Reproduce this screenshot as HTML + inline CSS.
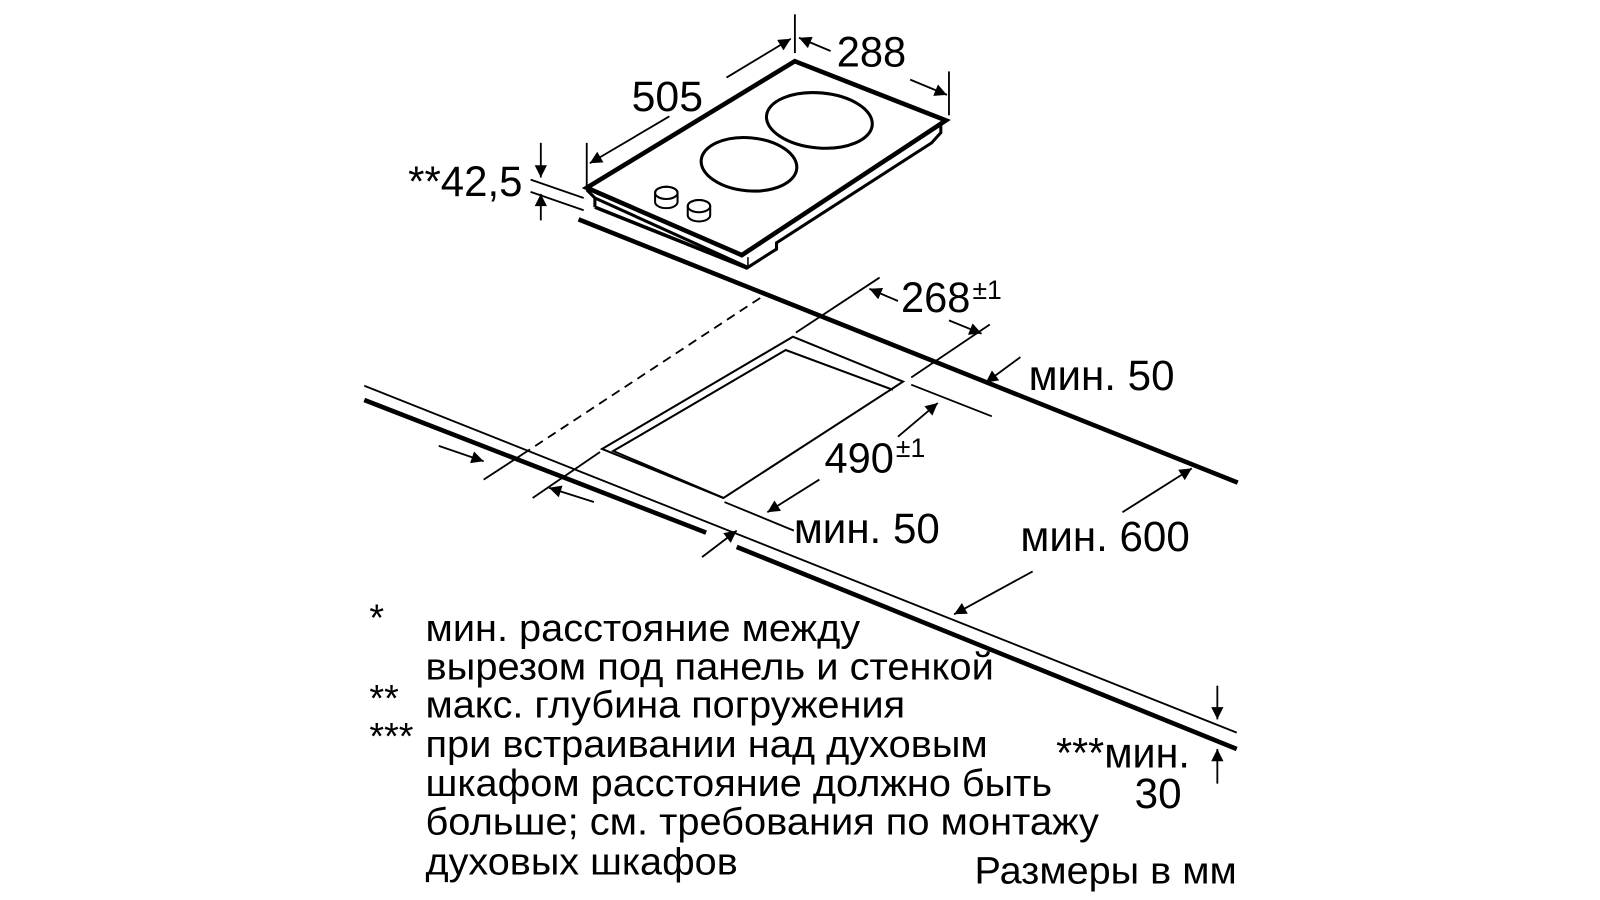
<!DOCTYPE html>
<html><head><meta charset="utf-8"><style>
html,body{margin:0;padding:0;background:#fff;}
svg{display:block;}
text{font-family:"Liberation Sans",Arial,sans-serif;fill:#000;}
</style></head><body>
<svg width="1600" height="900" viewBox="0 0 1600 900" xmlns="http://www.w3.org/2000/svg">
<defs>
<marker id="a" viewBox="0 0 10 10" refX="10" refY="5" markerWidth="17" markerHeight="12" markerUnits="userSpaceOnUse" orient="auto">
<path d="M0,0 L10,5 L0,10 z" fill="#000"/></marker>
</defs>
<g transform="scale(1.0204)">
<g stroke="#000" fill="none" stroke-linecap="butt">
<polygon points="779,60 927,118 727,250 575,184" stroke-width="4.5" fill="#fff"/>
<polyline points="575,186 583,194 733,262 761,244 761,238 913,140 922,130 922,122" stroke-width="3"/>
<line x1="583" y1="194" x2="583" y2="203" stroke-width="3"/>
<line x1="583" y1="203" x2="733" y2="263" stroke-width="3.5"/>
<line x1="733" y1="263" x2="733" y2="252" stroke-width="1.5"/>
<line x1="761" y1="246" x2="761" y2="238" stroke-width="1.5"/>
<ellipse cx="803" cy="118" rx="52" ry="27" stroke-width="3" transform="rotate(5 803 118)"/>
<ellipse cx="734" cy="161" rx="47" ry="26" stroke-width="3" transform="rotate(5 734 161)"/>
<path d="M642,189 a11,6 0 0 1 22,0 v9 a11,6 0 0 1 -22,0 z" stroke-width="2" fill="#fff"/>
<ellipse cx="653" cy="189" rx="11" ry="6" stroke-width="2"/>
<path d="M674,202 a11,6 0 0 1 22,0 v9 a11,6 0 0 1 -22,0 z" stroke-width="2" fill="#fff"/>
<ellipse cx="685" cy="202" rx="11" ry="6" stroke-width="2"/>
<line x1="779" y1="14" x2="779" y2="52" stroke-width="1.8"/>
<line x1="575" y1="140" x2="575" y2="182" stroke-width="1.8"/>
<line x1="930" y1="70" x2="930" y2="113" stroke-width="1.8"/>
<line x1="712" y1="76" x2="775" y2="38" stroke-width="1.8" marker-end="url(#a)"/>
<line x1="656" y1="114" x2="578" y2="160" stroke-width="1.8" marker-end="url(#a)"/>
<line x1="814" y1="50" x2="783" y2="37" stroke-width="1.8" marker-end="url(#a)"/>
<line x1="892" y1="78" x2="928" y2="93" stroke-width="1.8" marker-end="url(#a)"/>
<line x1="520" y1="176" x2="572" y2="194" stroke-width="1.8"/>
<line x1="520" y1="188" x2="572" y2="206" stroke-width="1.8"/>
<line x1="530" y1="140" x2="530" y2="174" stroke-width="1.8" marker-end="url(#a)"/>
<line x1="530" y1="216" x2="530" y2="190" stroke-width="1.8" marker-end="url(#a)"/>
<line x1="567" y1="215" x2="1213" y2="473" stroke-width="4.5"/>
<line x1="357" y1="378" x2="1212" y2="718" stroke-width="1.8"/>
<line x1="357" y1="392" x2="692" y2="522" stroke-width="4.5"/>
<line x1="722" y1="536" x2="1212" y2="734" stroke-width="4.5"/>
<polygon points="777,330 885,374 709,488 590,440" stroke-width="2"/>
<polyline points="875,382 770,343 601,442 709,488" stroke-width="2"/>
<line x1="745" y1="292" x2="517" y2="442" stroke-width="1.8" stroke-dasharray="9,6"/>
<line x1="517" y1="442" x2="474" y2="470" stroke-width="1.8"/>
<line x1="862" y1="272" x2="780" y2="326" stroke-width="1.8"/>
<line x1="970" y1="318" x2="893" y2="370" stroke-width="1.8"/>
<line x1="893" y1="377" x2="972" y2="408" stroke-width="1.8"/>
<line x1="710" y1="492" x2="778" y2="520" stroke-width="1.8"/>
<line x1="588" y1="443" x2="522" y2="488" stroke-width="1.8"/>
<line x1="880" y1="295" x2="852" y2="283" stroke-width="1.8" marker-end="url(#a)"/>
<line x1="930" y1="314" x2="962" y2="327" stroke-width="1.8" marker-end="url(#a)"/>
<line x1="1000" y1="350" x2="966" y2="375" stroke-width="1.8" marker-end="url(#a)"/>
<line x1="880" y1="428" x2="919" y2="395" stroke-width="1.8" marker-end="url(#a)"/>
<line x1="803" y1="470" x2="752" y2="502" stroke-width="1.8" marker-end="url(#a)"/>
<line x1="430" y1="437" x2="474" y2="452" stroke-width="1.8" marker-end="url(#a)"/>
<line x1="582" y1="492" x2="538" y2="478" stroke-width="1.8" marker-end="url(#a)"/>
<line x1="688" y1="546" x2="722" y2="520" stroke-width="1.8" marker-end="url(#a)"/>
<line x1="1100" y1="502" x2="1168" y2="459" stroke-width="1.8" marker-end="url(#a)"/>
<line x1="1012" y1="560" x2="935" y2="602" stroke-width="1.8" marker-end="url(#a)"/>
<line x1="1193" y1="672" x2="1193" y2="705" stroke-width="1.8" marker-end="url(#a)"/>
<line x1="1193" y1="768" x2="1193" y2="734" stroke-width="1.8" marker-end="url(#a)"/>
</g>
<g font-size="42">
<text x="619" y="109" textLength="70" lengthAdjust="spacingAndGlyphs">505</text>
<text x="820" y="65" textLength="68" lengthAdjust="spacingAndGlyphs">288</text>
<text x="400" y="192" textLength="112" lengthAdjust="spacingAndGlyphs">**42,5</text>
<text x="883" y="306" textLength="68" lengthAdjust="spacingAndGlyphs">268</text>
<text x="808" y="463" textLength="68" lengthAdjust="spacingAndGlyphs">490</text>
<text x="1008" y="382" textLength="143" lengthAdjust="spacingAndGlyphs">мин. 50</text>
<text x="778" y="532" textLength="143" lengthAdjust="spacingAndGlyphs">мин. 50</text>
<text x="1000" y="540" textLength="166" lengthAdjust="spacingAndGlyphs">мин. 600</text>
<text x="1035" y="752" textLength="131" lengthAdjust="spacingAndGlyphs">***мин.</text>
<text x="1112" y="792" textLength="46" lengthAdjust="spacingAndGlyphs">30</text>
</g>
<g font-size="26">
<text x="953" y="293">±1</text>
<text x="878" y="448">±1</text>
</g>
<g font-size="37">
<text x="362" y="618">*</text>
<text x="362" y="697">**</text>
<text x="362" y="734">***</text>
<text x="417" y="628" textLength="426" lengthAdjust="spacingAndGlyphs">мин. расстояние между</text>
<text x="417" y="666" textLength="557" lengthAdjust="spacingAndGlyphs">вырезом под панель и стенкой</text>
<text x="417" y="703" textLength="470" lengthAdjust="spacingAndGlyphs">макс. глубина погружения</text>
<text x="417" y="742" textLength="551" lengthAdjust="spacingAndGlyphs">при встраивании над духовым</text>
<text x="417" y="780" textLength="614" lengthAdjust="spacingAndGlyphs">шкафом расстояние должно быть</text>
<text x="417" y="818" textLength="660" lengthAdjust="spacingAndGlyphs">больше; см. требования по монтажу</text>
<text x="417" y="857" textLength="306" lengthAdjust="spacingAndGlyphs">духовых шкафов</text>
<text x="955" y="866" textLength="257" lengthAdjust="spacingAndGlyphs">Размеры в мм</text>
</g>
</g>
</svg>
</body></html>
